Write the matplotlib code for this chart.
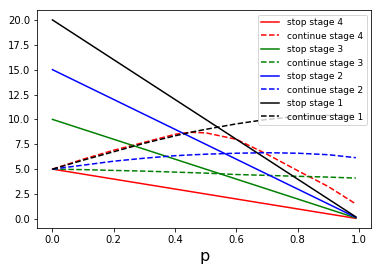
import matplotlib
matplotlib.use("Agg")
import matplotlib.pyplot as plt

# data
p_stop = [0.0, 0.99]
stop_stage4 = [5.0, 0.05]
stop_stage3 = [10.0, 0.10]
stop_stage2 = [15.0, 0.15]
stop_stage1 = [20.0, 0.20]

p_cont = [0.0, 0.1, 0.2, 0.3, 0.4, 0.45, 0.5, 0.6, 0.7, 0.8, 0.9, 0.99]
continue_stage4 = [5.0, 6.0, 6.9, 7.7, 8.5, 8.7, 8.65, 8.0, 6.5, 4.85, 3.25, 1.5]
continue_stage3 = [5.0, 4.95, 4.87, 4.8, 4.7, 4.65, 4.6, 4.46, 4.37, 4.28, 4.2, 4.1]
continue_stage2 = [5.0, 5.4, 5.8, 6.1, 6.35, 6.43, 6.5, 6.6, 6.65, 6.6, 6.45, 6.15]
continue_stage1 = [5.0, 5.9, 6.75, 7.6, 8.35, 8.7, 9.0, 9.55, 10.0, 10.3, 10.4, 10.4]

fig = plt.figure(figsize=(382 / 72, 271 / 72), dpi=72)
ax = fig.add_axes([37.3 / 382, 1 - 228.3 / 271, (371 - 37.3) / 382, (228.3 - 10) / 271])

ax.plot(p_stop, stop_stage4, color='r', linestyle='-', label='stop stage 4')
ax.plot(p_cont, continue_stage4, color='r', linestyle='--', label='continue stage 4')
ax.plot(p_stop, stop_stage3, color='g', linestyle='-', label='stop stage 3')
ax.plot(p_cont, continue_stage3, color='g', linestyle='--', label='continue stage 3')
ax.plot(p_stop, stop_stage2, color='b', linestyle='-', label='stop stage 2')
ax.plot(p_cont, continue_stage2, color='b', linestyle='--', label='continue stage 2')
ax.plot(p_stop, stop_stage1, color='k', linestyle='-', label='stop stage 1')
ax.plot(p_cont, continue_stage1, color='k', linestyle='--', label='continue stage 1')

ax.set_xlabel('p', fontsize=16)
ax.legend(loc='upper right', fontsize=9)

fig.savefig('out.png', dpi=72)
